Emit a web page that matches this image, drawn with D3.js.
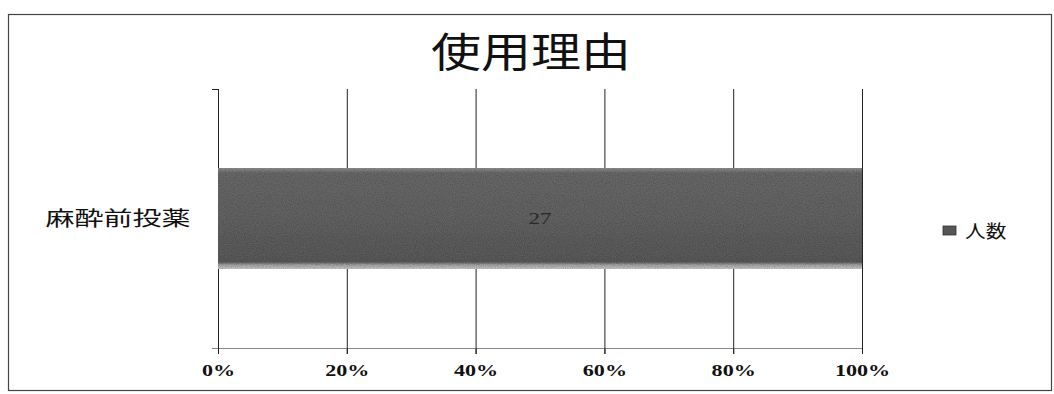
<!DOCTYPE html>
<html>
<head>
<meta charset="utf-8">
<script src="https://cdn.jsdelivr.net/npm/d3@7"></script>
<style>
  html, body { margin: 0; padding: 0; background: #fff; }
  svg { display: block; }
</style>
</head>
<body>
<script>
// 100% stacked horizontal bar: reasons for use
const title = "使用理由";
const categories = ["麻酔前投薬"];
const seriesNames = ["人数"];
const counts = [27];
const tickValues = [0, 0.2, 0.4, 0.6, 0.8, 1.0];

const W = 1054, H = 394;
const svg = d3.select("body").append("svg").attr("width", W).attr("height", H);

// text drawn with a horizontal stretch around its anchor point
function wideText(sel, x, y, sx) {
  return sel.attr("transform", `translate(${x},${y}) scale(${sx},1)`).attr("x", 0).attr("y", 0);
}

const defs = svg.append("defs");
const grad = defs.append("linearGradient").attr("id", "barGrad")
  .attr("x1", 0).attr("y1", 0).attr("x2", 0).attr("y2", 1);
grad.append("stop").attr("offset", "0%").attr("stop-color", "#939393");
grad.append("stop").attr("offset", "5%").attr("stop-color", "#6c6c6c");
grad.append("stop").attr("offset", "50%").attr("stop-color", "#666666");
grad.append("stop").attr("offset", "93%").attr("stop-color", "#5c5c5c");
grad.append("stop").attr("offset", "96%").attr("stop-color", "#a8a8a8");
grad.append("stop").attr("offset", "100%").attr("stop-color", "#cdcdcd");

// grain texture over the bar
const f = defs.append("filter").attr("id", "grain").attr("x", 0).attr("y", 0).attr("width", 1).attr("height", 1);
f.append("feTurbulence").attr("type", "fractalNoise").attr("baseFrequency", 0.9).attr("numOctaves", 2).attr("seed", 3).attr("result", "noise");
f.append("feColorMatrix").attr("in", "noise").attr("type", "matrix")
  .attr("values", "0 0 0 0 0  0 0 0 0 0  0 0 0 0 0  0 0 0 0.6 -0.12").attr("result", "dots");
f.append("feComposite").attr("in", "dots").attr("in2", "SourceGraphic").attr("operator", "in").attr("result", "dotsIn");
f.append("feMerge").selectAll("feMergeNode").data(["SourceGraphic", "dotsIn"]).join("feMergeNode").attr("in", d => d);

// chart frame
svg.append("rect").attr("x", 8.5).attr("y", 14.5).attr("width", 1043).attr("height", 376)
  .attr("fill", "none").attr("stroke", "#444").attr("stroke-width", 1.2);

// title
wideText(svg.append("text"), 531, 67, 1.22).attr("text-anchor", "middle")
  .attr("font-family", "'Noto Sans CJK JP', sans-serif").attr("font-size", 41)
  .attr("fill", "#111").text(title);

const plot = { left: 218, right: 862, top: 89, bottom: 348 };

const x = d3.scaleLinear().domain([0, 1]).range([plot.left, plot.right]);
const y = d3.scaleBand().domain(categories).range([plot.top, plot.bottom]).paddingInner(0.6).paddingOuter(0.3);

// stacked 100% values
const totals = categories.map((c, i) => counts[i]);
const share = counts.map((v, i) => v / totals[i]);

// vertical gridlines
svg.append("g").selectAll("line").data(tickValues).join("line")
  .attr("x1", d => x(d) + 0.5).attr("x2", d => x(d) + 0.5)
  .attr("y1", plot.top).attr("y2", plot.bottom + 6)
  .attr("stroke", "#222").attr("stroke-width", 1);

// category axis top tick
svg.append("line").attr("x1", plot.left - 6).attr("x2", plot.left + 0.5)
  .attr("y1", plot.top + 0.5).attr("y2", plot.top + 0.5).attr("stroke", "#222");

// bars
const bh = 101;
const by = c => y(c) + y.bandwidth() / 2 - bh / 2;
svg.append("g").selectAll("rect").data(categories).join("rect")
  .attr("x", x(0)).attr("y", c => by(c))
  .attr("width", (c, i) => x(share[i]) - x(0)).attr("height", bh)
  .attr("fill", "url(#barGrad)").attr("filter", "url(#grain)");

// value labels
svg.append("g").selectAll("text").data(categories).join("text")
  .each(function (c, i) { wideText(d3.select(this), x(share[i] / 2), by(c) + bh / 2 + 5, 1.35); })
  .attr("text-anchor", "middle")
  .attr("font-family", "'Liberation Serif', serif").attr("font-size", 17)
  .attr("fill", "#2a2a2a").text((c, i) => counts[i]);

// bottom value axis
const xAxis = d3.axisBottom(x).tickValues(tickValues).tickFormat(d3.format(".0%")).tickSize(6).tickPadding(10);
const gx = svg.append("g").attr("transform", `translate(0,${plot.bottom})`).call(xAxis);
gx.select(".domain").attr("stroke", "#888").attr("d", `M${plot.left - 6},0.5H${plot.right}`);
gx.selectAll(".tick line").attr("stroke", "#222");
gx.selectAll(".tick text")
  .attr("transform", "scale(1.3,1)")
  .attr("font-family", "'Liberation Serif', serif").attr("font-size", 17)
  .attr("font-weight", "bold").attr("fill", "#111");

// category labels
svg.append("g").selectAll("text").data(categories).join("text")
  .each(function (c) { wideText(d3.select(this), 118, y(c) + y.bandwidth() / 2 + 7, 1.45); })
  .attr("text-anchor", "middle")
  .attr("font-family", "'Noto Sans CJK JP', sans-serif").attr("font-size", 20)
  .attr("fill", "#111").text(c => c);

// legend
const lg = svg.append("g").attr("transform", "translate(943,231)");
lg.selectAll("rect").data(seriesNames).join("rect")
  .attr("x", 0).attr("y", (d, i) => i * 24 - 5).attr("width", 13).attr("height", 9)
  .attr("fill", "#555").attr("stroke", "#333").attr("stroke-width", 0.8);
lg.selectAll("text").data(seriesNames).join("text")
  .each(function (d, i) { wideText(d3.select(this), 22, i * 24 + 7, 1.15); })
  .attr("font-family", "'Noto Sans CJK JP', sans-serif").attr("font-size", 18)
  .attr("fill", "#111").text(d => d);
</script>
</body>
</html>
